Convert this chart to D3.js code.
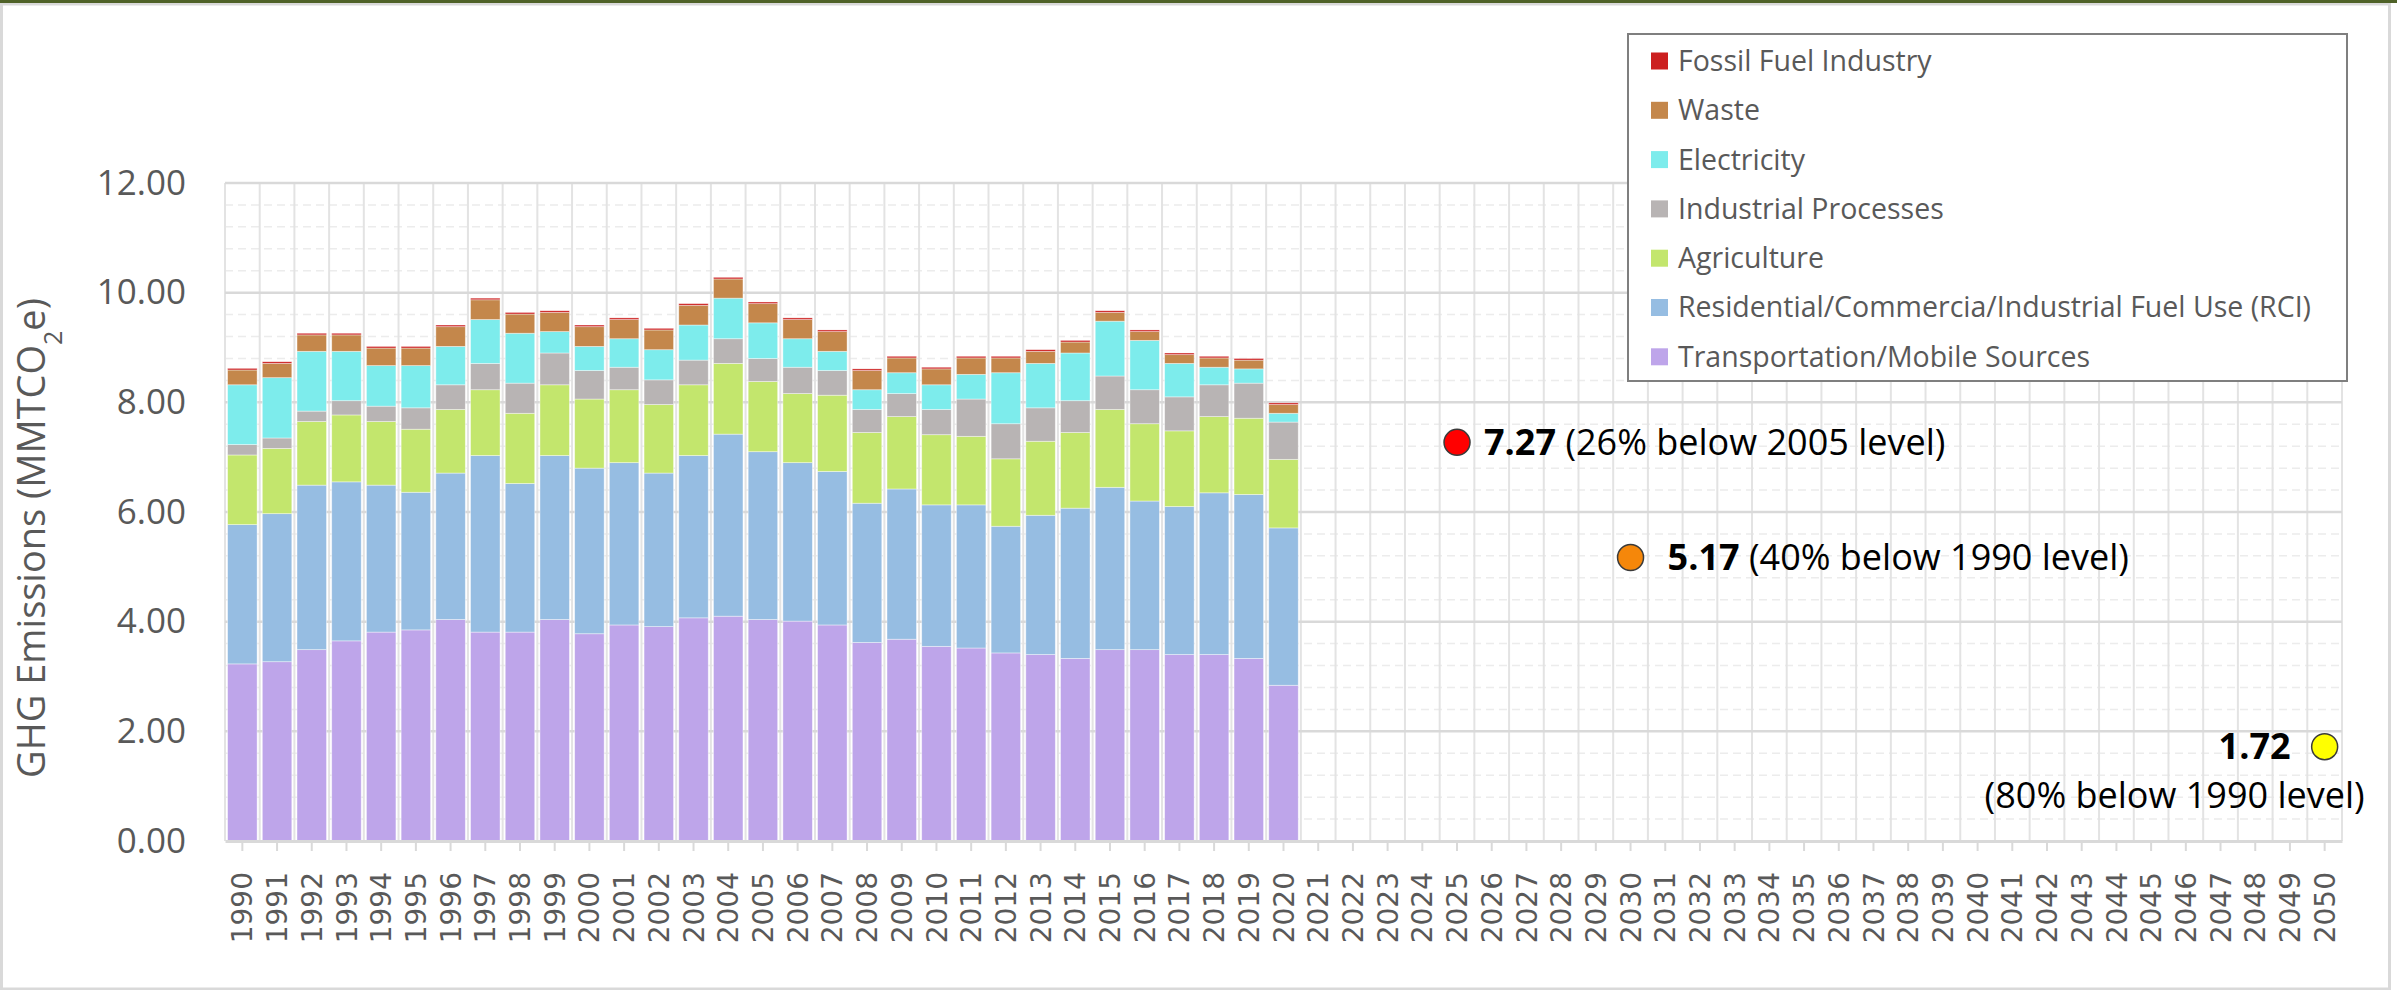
<!DOCTYPE html>
<html>
<head>
<meta charset="utf-8">
<script src="https://cdn.jsdelivr.net/npm/d3@7"></script>
<style>
  body { margin: 0; background: #fff; }
  svg { display: block; }
</style>
</head>
<body>
<svg id="chart"></svg>
<script>
// Chart size
var width = 2397;
var height = 990;

// Categories on the x axis (every year to 2050) and years that have inventory data
var years = d3.range(1990, 2051);
var dataYears = d3.range(1990, 2021);

// Sector values, MMTCO2e, 1990-2020
var transport = [3.23, 3.27, 3.49, 3.65, 3.81, 3.85, 4.04, 3.81, 3.81, 4.04, 3.78, 3.94, 3.91, 4.07, 4.10, 4.04,
  4.01, 3.94, 3.62, 3.68, 3.55, 3.52, 3.43, 3.40, 3.33, 3.49, 3.49, 3.40, 3.40, 3.33, 2.84];
var rci = [2.54, 2.70, 3.00, 2.90, 2.68, 2.51, 2.67, 3.22, 2.71, 2.99, 3.02, 2.96, 2.80, 2.96, 3.32, 3.06,
  2.89, 2.80, 2.54, 2.74, 2.58, 2.61, 2.31, 2.54, 2.74, 2.96, 2.71, 2.70, 2.95, 2.99, 2.87];
var agriculture = [1.27, 1.19, 1.16, 1.22, 1.16, 1.15, 1.16, 1.20, 1.28, 1.29, 1.26, 1.33, 1.25, 1.29, 1.29, 1.28,
  1.26, 1.39, 1.29, 1.32, 1.28, 1.25, 1.23, 1.35, 1.38, 1.42, 1.41, 1.38, 1.39, 1.39, 1.25];
var industrial = [0.19, 0.19, 0.19, 0.26, 0.28, 0.39, 0.45, 0.48, 0.55, 0.58, 0.52, 0.41, 0.45, 0.45, 0.45, 0.42,
  0.48, 0.45, 0.42, 0.42, 0.46, 0.68, 0.64, 0.61, 0.58, 0.61, 0.62, 0.62, 0.58, 0.64, 0.68];
var electricity = [1.09, 1.10, 1.09, 0.90, 0.74, 0.77, 0.70, 0.80, 0.91, 0.39, 0.44, 0.52, 0.55, 0.64, 0.74, 0.65,
  0.52, 0.35, 0.36, 0.38, 0.45, 0.45, 0.93, 0.81, 0.87, 1.00, 0.90, 0.61, 0.32, 0.26, 0.16];
var waste = [0.27, 0.26, 0.30, 0.30, 0.32, 0.32, 0.36, 0.36, 0.35, 0.35, 0.36, 0.35, 0.36, 0.36, 0.35, 0.35,
  0.35, 0.36, 0.35, 0.27, 0.29, 0.30, 0.27, 0.22, 0.20, 0.16, 0.16, 0.16, 0.17, 0.16, 0.16];
var fossil = [0.03, 0.03, 0.03, 0.03, 0.03, 0.03, 0.03, 0.03, 0.03, 0.03, 0.03, 0.03, 0.03, 0.03, 0.03, 0.03,
  0.03, 0.03, 0.03, 0.03, 0.03, 0.03, 0.03, 0.03, 0.03, 0.03, 0.03, 0.03, 0.03, 0.03, 0.03];

// Series, bottom of the stack first
var seriesKeys = ["transport", "rci", "agriculture", "industrial", "electricity", "waste", "fossil"];
var seriesValues = [transport, rci, agriculture, industrial, electricity, waste, fossil];
var seriesLabels = ["Transportation/Mobile Sources", "Residential/Commercia/Industrial Fuel Use (RCI)",
  "Agriculture", "Industrial Processes", "Electricity", "Waste", "Fossil Fuel Industry"];
var seriesColors = ["#bea5ea", "#96bde2", "#c3e66d", "#b8b4b4", "#7decec", "#c4874b", "#cc1f1f"];

// Reduction targets
var targetYears = [2025, 2030, 2050];
var targetValues = [7.27, 5.17, 1.72];
var targetNotes = ["(26% below 2005 level)", "(40% below 1990 level)", "(80% below 1990 level)"];
var targetColors = ["#ff0000", "#f5870a", "#ffff00"];

// Y axis ticks
var yTicks = [0, 2, 4, 6, 8, 10, 12];

var font = "'Open Sans', sans-serif";
var textGray = "#595959";

var svg = d3.select("#chart")
  .attr("width", width)
  .attr("height", height);

// Chart frame
svg.append("rect")
  .attr("x", 1.5).attr("y", 4)
  .attr("width", width - 9).attr("height", height - 5)
  .attr("fill", "#fff")
  .attr("stroke", "#d9d9d9")
  .attr("stroke-width", 3);
svg.append("rect")
  .attr("x", 0).attr("y", 0)
  .attr("width", width).attr("height", 3)
  .attr("fill", "#4f6228");

// Scales
var x = d3.scaleBand()
  .domain(years)
  .range([225, 2342])
  .paddingInner(0.15)
  .paddingOuter(0.075);

var y = d3.scaleLinear()
  .domain([0, 12])
  .range([841, 183]);

var step = x.step();

// Minor gridlines every 0.4
var minor = d3.range(0, 12.01, 0.4).filter(function(v) {
  return Math.abs(v / 2 - Math.round(v / 2)) > 0.01;
});
svg.append("g")
  .selectAll("line")
  .data(minor)
  .enter()
  .append("line")
  .attr("x1", x.range()[0])
  .attr("x2", x.range()[1])
  .attr("y1", function(d) { return y(d); })
  .attr("y2", function(d) { return y(d); })
  .attr("stroke", "#ececec")
  .attr("stroke-width", 1.5)
  .attr("stroke-dasharray", "8,5");

// Vertical gridlines at category boundaries
var boundaries = years.map(function(d) { return x(d) + x.bandwidth() / 2 - step / 2; });
boundaries.push(x.range()[1]);
svg.append("g")
  .selectAll("line")
  .data(boundaries)
  .enter()
  .append("line")
  .attr("x1", function(d) { return d; })
  .attr("x2", function(d) { return d; })
  .attr("y1", y(12))
  .attr("y2", y(0))
  .attr("stroke", "#e3e3e3")
  .attr("stroke-width", 2);

// Major gridlines
svg.append("g")
  .selectAll("line")
  .data(yTicks.filter(function(d) { return d > 0; }))
  .enter()
  .append("line")
  .attr("x1", x.range()[0])
  .attr("x2", x.range()[1])
  .attr("y1", function(d) { return y(d); })
  .attr("y2", function(d) { return y(d); })
  .attr("stroke", "#d9d9d9")
  .attr("stroke-width", 2.5);

// Stack the data
var rows = dataYears.map(function(yr, i) {
  var row = { year: yr };
  seriesKeys.forEach(function(k, j) { row[k] = seriesValues[j][i]; });
  return row;
});
var stacked = d3.stack().keys(seriesKeys)(rows);

svg.append("g")
  .selectAll("g")
  .data(stacked)
  .enter()
  .append("g")
  .attr("fill", function(d, i) { return seriesColors[i]; })
  .selectAll("rect")
  .data(function(d) { return d; })
  .enter()
  .append("rect")
  .attr("x", function(d) { return x(d.data.year); })
  .attr("width", x.bandwidth())
  .attr("y", function(d) { return y(d[1]); })
  .attr("height", function(d) { return y(d[0]) - y(d[1]); })
  .attr("stroke", "rgba(255,255,255,0.5)")
  .attr("stroke-width", 0.8);

// X axis
var xAxis = svg.append("g")
  .attr("transform", "translate(0," + y(0) + ")")
  .call(d3.axisBottom(x).tickSize(10).tickSizeOuter(0));
xAxis.select(".domain")
  .attr("stroke", "#d9d9d9")
  .attr("stroke-width", 3);
xAxis.selectAll(".tick line")
  .attr("stroke", "#d9d9d9")
  .attr("stroke-width", 2);
xAxis.selectAll(".tick text")
  .attr("transform", "rotate(-90)")
  .attr("x", -31)
  .attr("y", 0)
  .attr("dy", "0.36em")
  .style("text-anchor", "end")
  .style("font-family", "'DejaVu Sans', sans-serif")
  .style("font-size", "28px")
  .attr("fill", textGray);

// Y axis labels
var yAxis = svg.append("g")
  .attr("transform", "translate(225,0)")
  .call(d3.axisLeft(y).tickValues(yTicks).tickFormat(d3.format(".2f")).tickSize(0).tickPadding(39));
yAxis.select(".domain").remove();
yAxis.selectAll(".tick text")
  .style("font-family", font)
  .style("font-size", "35px")
  .attr("fill", textGray);

// Y axis title
var title = svg.append("text")
  .attr("transform", "translate(45,538) rotate(-90)")
  .attr("text-anchor", "middle")
  .style("font-family", font)
  .style("font-size", "38px")
  .attr("fill", textGray);
title.append("tspan").text("GHG Emissions (MMTCO");
title.append("tspan").attr("baseline-shift", "sub").style("font-size", "25px").text("2");
title.append("tspan").text("e)");

// Target markers
var targets = svg.append("g");
targets.selectAll("circle")
  .data(targetYears)
  .enter()
  .append("circle")
  .attr("cx", function(d) { return x(d) + x.bandwidth() / 2; })
  .attr("cy", function(d, i) { return y(targetValues[i]); })
  .attr("r", 13)
  .attr("fill", function(d, i) { return targetColors[i]; })
  .attr("stroke", "#3a3a3a")
  .attr("stroke-width", 1.5);

// Target labels
var fmt = d3.format(".2f");
[0, 1].forEach(function(i) {
  var cx = x(targetYears[i]) + x.bandwidth() / 2;
  var t = targets.append("text")
    .attr("x", cx + (i === 0 ? 27 : 37))
    .attr("y", y(targetValues[i]))
    .attr("dy", "0.35em")
    .style("font-family", font)
    .style("font-size", "36px")
    .attr("fill", "#000");
  t.append("tspan").style("font-weight", "bold").text(fmt(targetValues[i]));
  t.append("tspan").text(" " + targetNotes[i]);
});
var cx2050 = x(targetYears[2]) + x.bandwidth() / 2;
targets.append("text")
  .attr("x", cx2050 - 34)
  .attr("y", y(targetValues[2]))
  .attr("dy", "0.35em")
  .attr("text-anchor", "end")
  .style("font-family", font)
  .style("font-size", "36px")
  .style("font-weight", "bold")
  .attr("fill", "#000")
  .text(fmt(targetValues[2]));
targets.append("text")
  .attr("x", cx2050 + 40)
  .attr("y", y(targetValues[2]) + 49)
  .attr("dy", "0.35em")
  .attr("text-anchor", "end")
  .style("font-family", font)
  .style("font-size", "36px")
  .attr("fill", "#000")
  .text(targetNotes[2]);

// Legend, top series first
var legend = svg.append("g");
legend.append("rect")
  .attr("x", 1628).attr("y", 34)
  .attr("width", 719).attr("height", 347)
  .attr("fill", "#fff")
  .attr("stroke", "#7f7f7f")
  .attr("stroke-width", 2);

var legendOrder = seriesKeys.map(function(d, i) { return i; }).reverse();
var item = legend.selectAll(".item")
  .data(legendOrder)
  .enter()
  .append("g")
  .attr("class", "item")
  .attr("transform", function(d, i) { return "translate(1651," + (61 + i * 49.3) + ")"; });
item.append("rect")
  .attr("x", 0).attr("y", -8.5)
  .attr("width", 17).attr("height", 17)
  .attr("fill", function(d) { return seriesColors[d]; });
item.append("text")
  .attr("x", 27)
  .attr("dy", "0.35em")
  .style("font-family", font)
  .style("font-size", "28.5px")
  .attr("fill", textGray)
  .text(function(d) { return seriesLabels[d]; });
</script>
</body>
</html>
